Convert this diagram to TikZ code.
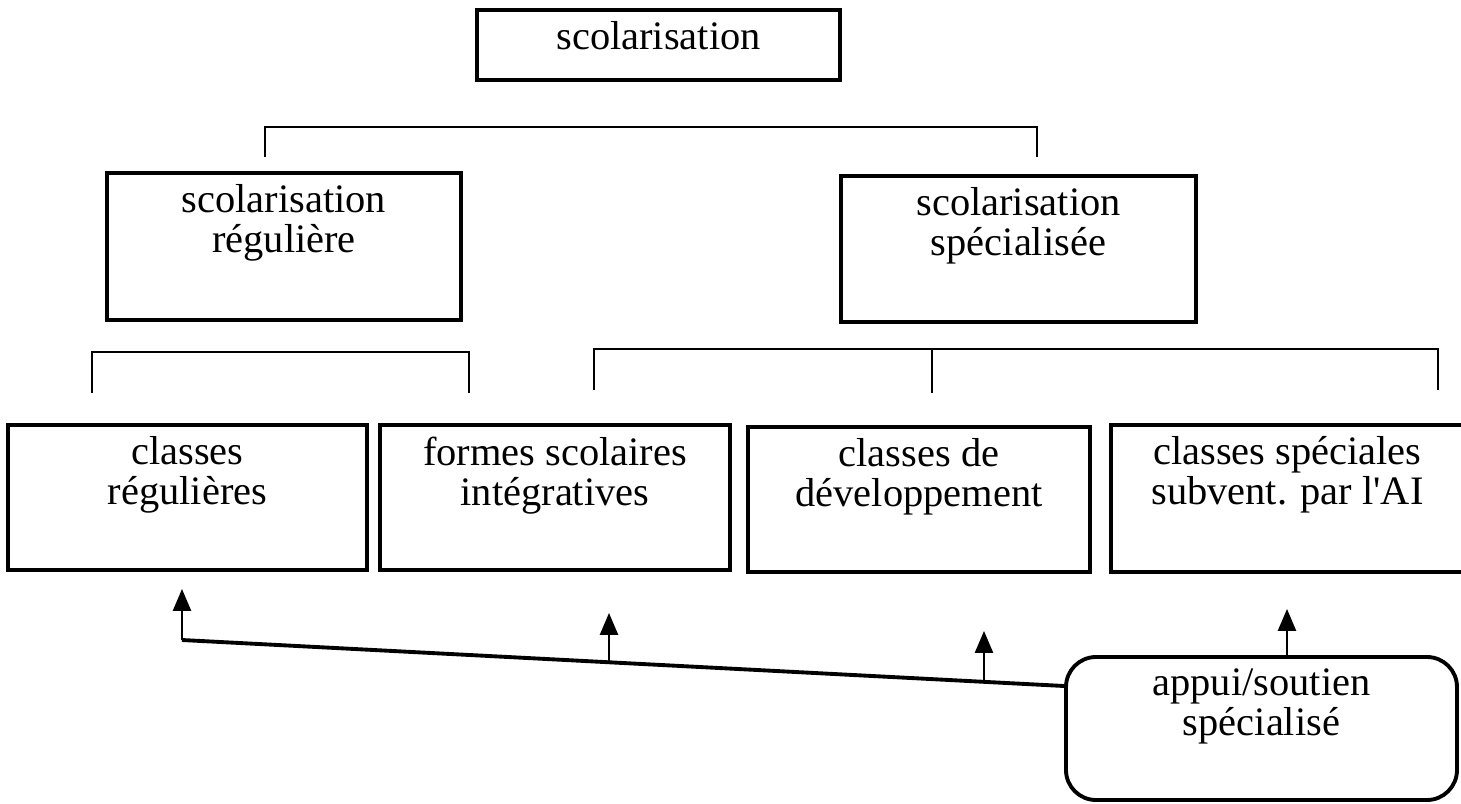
\documentclass[tikz,border=0pt]{standalone}
\usepackage{fontspec}
\setmainfont{Liberation Serif}
\usetikzlibrary{arrows.meta}

\begin{document}
\begin{tikzpicture}[x=0.1mm, y=-0.1mm,
    font=\fontsize{11.5}{11.4}\selectfont,
    box/.style={draw, line width=1.1pt, inner sep=0pt},
    lbl/.style={anchor=north, align=center, inner sep=0pt},
    bracket/.style={line width=0.8pt},
    tick/.style={line width=0.6pt},
    feed/.style={line width=1.1pt},
    up/.style={-{Triangle[length=2.2mm,width=1.8mm]}, line width=0.7pt}]

  \useasboundingbox (0,0) rectangle (1461,804);
  \clip (0,0) rectangle (1461,804);

  % top level
  \node [box, minimum width=36.3mm, minimum height=7mm] (scol) at (658.5,45) {};
  \node [lbl] at ([yshift=-1.3mm]scol.north) {scolarisation};

  \node [box, minimum width=35.4mm, minimum height=14.7mm] (reg) at (284,246.5) {};
  \node [lbl] at ([yshift=-1.3mm]reg.north) {scolarisation\\régulière};

  \node [box, minimum width=35.5mm, minimum height=14.6mm] (spec) at (1018.5,249) {};
  \node [lbl] at ([yshift=-1.3mm]spec.north) {scolarisation\\spécialisée};

  \coordinate (regUp) at (265,157);
  \coordinate (specUp) at (1037,157);
  \draw [bracket] (regUp) -- ++(0,-30) -| (specUp);

  % bottom level
  \node [box, minimum width=35.9mm, minimum height=14.5mm] (classReg) at (187.5,497.5) {};
  \node [lbl] at ([yshift=-1.3mm]classReg.north) {classes\\régulières};

  \node [box, minimum width=35mm, minimum height=14.5mm] (formes) at (555,497.5) {};
  \node [lbl] at ([yshift=-1.3mm]formes.north) {formes scolaires\\intégratives};

  \node [box, minimum width=34.2mm, minimum height=14.5mm] (dev) at (919,499.5) {};
  \node [lbl] at ([yshift=-1.3mm]dev.north) {classes de\\développement};

  \node [box, minimum width=35.3mm, minimum height=14.7mm] (AI) at (1287.5,498.5) {};
  \node [lbl] at ([yshift=-1.3mm]AI.north) {classes spéciales\\subvent. par l\textquotesingle AI};

  \coordinate (regL) at (92,393);
  \coordinate (regR) at (469,393);
  \draw [bracket] (regL) -- ++(0,-41) -| (regR);

  \coordinate (specL) at (594,390);
  \coordinate (specM) at (932,393);
  \coordinate (specR) at (1438,390);
  \draw [bracket] (specL) -- ++(0,-41) -| (specR);
  \draw [tick] (specM) -- (specM |- specR) -- ++(0,-41);

  % support
  \node [box, rounded corners=3mm, minimum width=39.1mm, minimum height=14.3mm]
        (appui) at (1261.5,728.5) {};
  \node [lbl] at ([yshift=-1.3mm]appui.north) {appui/soutien\\spécialisé};

  \coordinate (tap1) at (182,640);
  \coordinate (tap2) at (609,661);
  \coordinate (tap3) at (984,681);
  \coordinate (tap4) at ([xshift=2.55mm]appui.north);
  \draw [feed] (tap1) -- ([yshift=4.25mm]appui.west);

  \draw [up] (tap1) -- ([yshift=-1.7mm]tap1 |- classReg.south);
  \draw [up] (tap2) -- ([yshift=-4.1mm]tap2 |- formes.south);
  \draw [up] (tap3) -- ([yshift=-5.7mm]tap3 |- dev.south);
  \draw [up] (tap4) -- ([yshift=-3.5mm]tap4 |- AI.south);

\end{tikzpicture}
\end{document}
